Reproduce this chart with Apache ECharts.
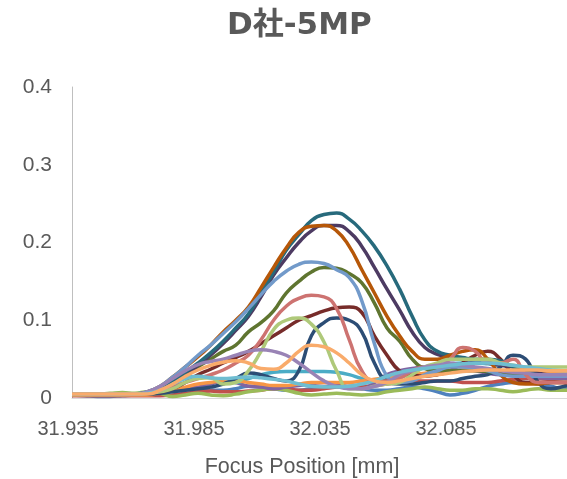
<!DOCTYPE html>
<html>
<head>
<meta charset="utf-8">
<script src="https://cdn.jsdelivr.net/npm/echarts@6/dist/echarts.min.js"></script>
<style>
  html, body { margin: 0; padding: 0; background: #fff; }
  #chart { width: 567px; height: 479px; }
</style>
</head>
<body>
<div id="chart"></div>
<script>
// focus positions [mm], step 0.005
var focusPos = [31.935, 31.940, 31.945, 31.950, 31.955, 31.960, 31.965, 31.970, 31.975, 31.980,
    31.985, 31.990, 31.995, 32.000, 32.005, 32.010, 32.015, 32.020, 32.025, 32.030,
    32.035, 32.040, 32.045, 32.050, 32.055, 32.060, 32.065, 32.070, 32.075, 32.080,
    32.085, 32.090, 32.095, 32.100, 32.105, 32.110, 32.115, 32.120, 32.125, 32.130, 32.135];

var xTicks = [31.935, 31.985, 32.035, 32.085];
var yTicks = [0, 0.1, 0.2, 0.3, 0.4];

var s1 = [0.004,0.003,0.002,0.002,0.003,0.004,0.006,0.008,0.010,0.012,0.012,0.010,0.010,0.012,0.015,0.014,0.012,0.010,0.010,0.012,0.014,0.015,0.014,0.012,0.010,0.010,0.012,0.014,0.012,0.008,0.004,0.006,0.010,0.015,0.018,0.020,0.020,0.018,0.015,0.012,0.014];
var s2 = [0.003,0.003,0.003,0.003,0.003,0.003,0.003,0.003,0.004,0.006,0.008,0.009,0.008,0.008,0.009,0.010,0.012,0.012,0.010,0.010,0.012,0.014,0.015,0.015,0.016,0.018,0.020,0.022,0.022,0.022,0.022,0.020,0.020,0.020,0.022,0.024,0.025,0.025,0.024,0.025,0.025];
var s3 = [0.005,0.005,0.005,0.006,0.007,0.006,0.008,0.006,0.002,0.004,0.006,0.004,0.003,0.005,0.008,0.010,0.012,0.010,0.006,0.004,0.005,0.006,0.005,0.004,0.005,0.008,0.010,0.012,0.014,0.012,0.010,0.010,0.012,0.012,0.010,0.008,0.010,0.012,0.010,0.010,0.010];
var s4 = [0.004,0.004,0.004,0.004,0.004,0.004,0.005,0.007,0.010,0.012,0.014,0.018,0.022,0.020,0.015,0.014,0.012,0.014,0.016,0.018,0.020,0.018,0.014,0.012,0.020,0.030,0.035,0.038,0.040,0.040,0.040,0.038,0.035,0.032,0.030,0.030,0.028,0.026,0.025,0.025,0.025];
var s5 = [0.004,0.004,0.004,0.004,0.004,0.005,0.008,0.014,0.020,0.026,0.028,0.026,0.022,0.020,0.025,0.030,0.033,0.034,0.034,0.034,0.034,0.033,0.030,0.025,0.022,0.025,0.030,0.035,0.040,0.042,0.044,0.045,0.045,0.044,0.042,0.040,0.038,0.035,0.034,0.033,0.033];
var s6 = [0.004,0.004,0.004,0.004,0.004,0.004,0.004,0.006,0.010,0.014,0.018,0.020,0.022,0.022,0.020,0.018,0.016,0.016,0.018,0.020,0.020,0.020,0.020,0.022,0.024,0.026,0.028,0.030,0.032,0.034,0.036,0.036,0.036,0.035,0.034,0.034,0.034,0.033,0.032,0.032,0.032];
var s7 = [0.005,0.005,0.005,0.005,0.005,0.005,0.005,0.006,0.008,0.010,0.012,0.014,0.018,0.025,0.032,0.030,0.025,0.022,0.035,0.080,0.097,0.103,0.100,0.085,0.045,0.022,0.018,0.018,0.020,0.022,0.022,0.025,0.028,0.030,0.040,0.055,0.050,0.020,0.012,0.015,0.020];
var s8 = [0.005,0.005,0.005,0.005,0.005,0.005,0.006,0.008,0.012,0.020,0.030,0.037,0.045,0.052,0.060,0.070,0.080,0.090,0.100,0.106,0.112,0.116,0.117,0.110,0.080,0.055,0.035,0.030,0.028,0.030,0.035,0.045,0.055,0.060,0.050,0.030,0.020,0.020,0.020,0.020,0.020];
var s9 = [0.005,0.005,0.005,0.005,0.005,0.005,0.006,0.010,0.018,0.028,0.040,0.050,0.060,0.068,0.085,0.097,0.112,0.135,0.150,0.162,0.168,0.167,0.160,0.148,0.122,0.090,0.073,0.050,0.038,0.035,0.035,0.035,0.035,0.034,0.032,0.030,0.030,0.030,0.030,0.030,0.030];
var s10 = [0.005,0.005,0.005,0.005,0.005,0.005,0.007,0.012,0.020,0.030,0.042,0.055,0.070,0.087,0.105,0.130,0.158,0.180,0.200,0.215,0.222,0.222,0.214,0.195,0.168,0.140,0.113,0.085,0.065,0.056,0.052,0.050,0.048,0.045,0.042,0.040,0.035,0.032,0.030,0.030,0.030];
var s11 = [0.005,0.005,0.005,0.005,0.005,0.005,0.007,0.013,0.022,0.033,0.045,0.058,0.073,0.090,0.108,0.135,0.162,0.190,0.210,0.228,0.236,0.238,0.230,0.215,0.195,0.170,0.140,0.105,0.075,0.060,0.055,0.052,0.050,0.050,0.048,0.040,0.035,0.030,0.030,0.030,0.030];
var s12 = [0.005,0.005,0.005,0.005,0.005,0.005,0.008,0.015,0.027,0.040,0.053,0.068,0.085,0.100,0.117,0.142,0.168,0.193,0.213,0.221,0.222,0.215,0.195,0.165,0.135,0.105,0.080,0.060,0.050,0.050,0.055,0.060,0.062,0.050,0.030,0.020,0.018,0.018,0.020,0.020,0.020];
var s13 = [0.005,0.005,0.005,0.005,0.005,0.005,0.008,0.015,0.027,0.040,0.055,0.068,0.083,0.098,0.115,0.133,0.150,0.163,0.172,0.175,0.173,0.165,0.155,0.125,0.070,0.028,0.020,0.022,0.030,0.035,0.040,0.040,0.038,0.035,0.030,0.028,0.028,0.028,0.028,0.028,0.028];
var s14 = [0.005,0.005,0.005,0.005,0.005,0.005,0.006,0.010,0.015,0.020,0.025,0.030,0.036,0.045,0.055,0.075,0.100,0.118,0.128,0.132,0.130,0.115,0.075,0.035,0.022,0.022,0.025,0.035,0.040,0.040,0.050,0.065,0.060,0.045,0.045,0.050,0.030,0.020,0.020,0.020,0.020];
var s15 = [0.005,0.005,0.005,0.005,0.005,0.005,0.006,0.008,0.012,0.020,0.025,0.026,0.018,0.020,0.035,0.060,0.088,0.100,0.103,0.095,0.072,0.035,0.012,0.012,0.015,0.018,0.020,0.030,0.040,0.045,0.050,0.050,0.050,0.050,0.045,0.042,0.040,0.040,0.040,0.040,0.040];
var s16 = [0.005,0.005,0.005,0.005,0.005,0.005,0.008,0.015,0.025,0.035,0.043,0.047,0.050,0.055,0.060,0.062,0.060,0.055,0.045,0.033,0.022,0.015,0.012,0.012,0.015,0.020,0.030,0.035,0.040,0.042,0.045,0.042,0.040,0.038,0.035,0.033,0.032,0.030,0.030,0.030,0.030];
var s17 = [0.005,0.005,0.005,0.005,0.005,0.005,0.006,0.010,0.018,0.025,0.028,0.026,0.025,0.026,0.027,0.026,0.024,0.022,0.018,0.015,0.014,0.014,0.015,0.018,0.022,0.028,0.033,0.036,0.038,0.040,0.042,0.044,0.045,0.045,0.044,0.042,0.040,0.038,0.036,0.035,0.035];
var s18 = [0.005,0.005,0.005,0.005,0.005,0.005,0.005,0.010,0.018,0.028,0.036,0.042,0.046,0.048,0.045,0.038,0.037,0.045,0.060,0.068,0.066,0.058,0.045,0.030,0.022,0.020,0.022,0.025,0.028,0.030,0.032,0.034,0.035,0.036,0.036,0.036,0.036,0.036,0.035,0.035,0.035];

var seriesValues = [s1, s2, s3, s4, s5, s6, s7, s8, s9, s10, s11, s12, s13, s14, s15, s16, s17, s18];
var seriesColors = ['#4F81BD', '#C0504D', '#9BBB59', '#8064A2', '#4BACC6', '#F79646',
    '#2C4D75', '#772C2A', '#5F7530', '#4D3B62', '#276A7C', '#B65708',
    '#729ACA', '#CD7371', '#AFC97A', '#9983B5', '#6FBDD1', '#F9AB6B'];

var myChart = echarts.init(document.getElementById('chart'));

var series = seriesValues.map(function (vals, i) {
    return {
        type: 'line',
        smooth: 0.5,
        symbol: 'none',
        data: focusPos.map(function (x, j) { return [x, vals[j]]; }),
        lineStyle: { width: 3.5, color: seriesColors[i] },
        itemStyle: { color: seriesColors[i] }
    };
});

var option = {
    animation: false,
    backgroundColor: '#fff',
    title: {
        text: 'D社-5MP',
        left: 222,
        top: 5,
        textStyle: {
            fontFamily: 'DejaVu Sans, Noto Sans CJK JP',
            fontSize: 31,
            fontWeight: 'bold',
            color: '#595959'
        }
    },
    grid: { left: 72, right: -9, top: 87, bottom: 81, containLabel: false, outerBoundsMode: 'none' },
    xAxis: {
        type: 'value',
        min: xTicks[0],
        max: 32.135,
        interval: 0.05,
        name: 'Focus Position [mm]',
        nameLocation: 'middle',
        nameGap: 58,
        nameTextStyle: {
            fontFamily: 'Liberation Sans',
            fontSize: 21.5,
            color: '#595959',
            padding: [0, 44, 0, 0]
        },
        axisLine: { show: true, lineStyle: { color: '#D9D9D9', width: 1 } },
        axisTick: { show: false },
        splitLine: { show: false },
        axisLabel: {
            fontFamily: 'Liberation Sans',
            fontSize: 20,
            color: '#595959',
            margin: 21,
            padding: [0, 8, 0, 0],
            showMaxLabel: false,
            formatter: function (v) { return v.toFixed(3); }
        }
    },
    yAxis: {
        type: 'value',
        min: yTicks[0],
        max: yTicks[yTicks.length - 1],
        interval: 0.1,
        axisLine: { show: true, lineStyle: { color: '#BFBFBF', width: 1 } },
        axisTick: { show: false },
        splitLine: { show: false },
        axisLabel: {
            fontFamily: 'Liberation Sans',
            fontSize: 21,
            color: '#595959',
            margin: 20,
            formatter: function (v) { return String(Math.round(v * 10) / 10); }
        }
    },
    series: series
};

myChart.setOption(option);
</script>
</body>
</html>
